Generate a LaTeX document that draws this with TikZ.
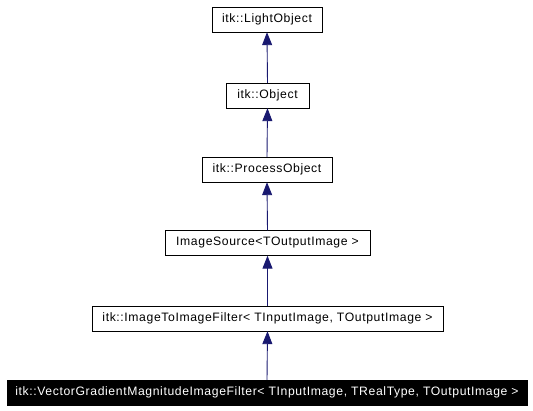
\documentclass[tikz,border=0pt]{standalone}
\usepackage{fontspec}
\setmainfont{Liberation Sans}[LetterSpace=5]
\usetikzlibrary{arrows.meta}
\definecolor{edgeblue}{HTML}{191970}
\begin{document}
\begin{tikzpicture}[x=1pt,y=-1pt,
  cls/.style={draw=black,fill=white,inner sep=0pt,minimum height=25pt,font=\fontsize{12.2}{14}\selectfont},
  cur/.style={cls,fill=black,text=white},
  inh/.style={draw=edgeblue,line width=0.9pt,-{Triangle[width=10pt,length=13pt,fill=edgeblue]}}]
\useasboundingbox (0,0) rectangle (533,411);
\node[cls,minimum width=110pt] (lo) at (267,19.5) {itk::LightObject};
\node[cls,minimum width=83pt] (ob) at (267.5,95.5) {itk::Object};
\node[cls,minimum width=130pt] (po) at (267,169.5) {itk::ProcessObject};
\node[cls,minimum width=205pt] (is) at (267.5,243) {ImageSource<TOutputImage >};
\node[cls,minimum width=351pt] (ii) at (267.5,318.5) {itk::ImageToImageFilter< TInputImage, TOutputImage >};
\node[cur,minimum width=520pt] (vg) at (267,392.5) {itk::VectorGradientMagnitudeImageFilter< TInputImage, TRealType, TOutputImage >};
\draw[inh] (ob.north) -- (lo.south);
\draw[inh] (po.north) -- (ob.south);
\draw[inh] (is.north) -- (po.south);
\draw[inh] (ii.north) -- (is.south);
\draw[inh] (vg.north) -- (ii.south);
\end{tikzpicture}
\end{document}
